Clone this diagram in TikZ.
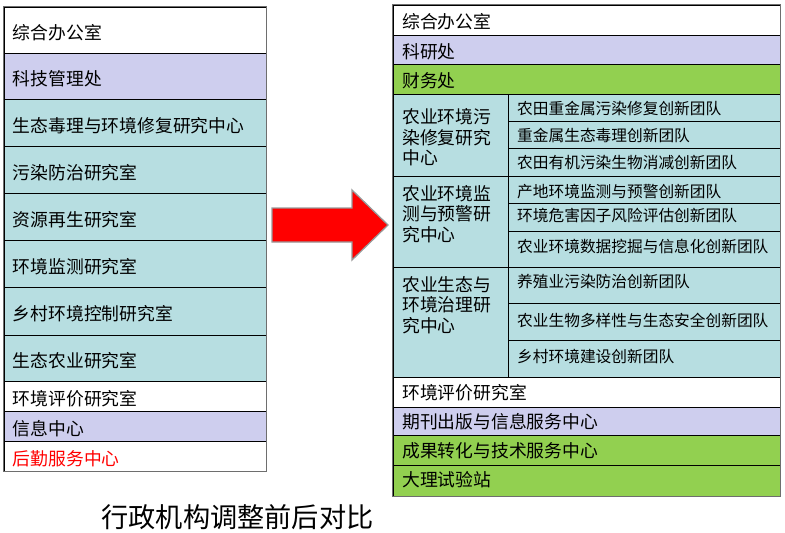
\documentclass[tikz,border=0pt]{standalone}
\usepackage{fontspec}
\setmainfont{Noto Sans CJK SC}
\usetikzlibrary{fit,calc}
\definecolor{lav}{RGB}{206,206,238}
\definecolor{teal2}{RGB}{183,222,225}
\definecolor{grn}{RGB}{146,208,80}
\definecolor{arrowred}{RGB}{255,0,0}
\definecolor{framegray}{RGB}{110,110,110}
\begin{document}
\begin{tikzpicture}[x=1pt,y=-1pt,
  cell/.style={draw=black, line width=0.7pt, inner sep=0pt, fill=#1},
  txt/.style={anchor=west, inner sep=0pt, font=\fontsize{17.8}{21}\selectfont},
  subtxt/.style={anchor=west, inner sep=0pt, font=\fontsize{15.7}{19}\selectfont},
  grouptxt/.style={anchor=north west, inner sep=0pt, align=left, font=\fontsize{17.8}{20.5}\selectfont},
  frame/.style={draw=framegray, line width=1.1pt}
]
\useasboundingbox (0,0) rectangle (785,533);

% ---------- left table ----------
\foreach \n/\a/\b/\c/\s in {
  L1/7/53/white/综合办公室,
  L2/53/99/lav/科技管理处,
  L3/99/146/teal2/生态毒理与环境修复研究中心,
  L4/146/193/teal2/污染防治研究室,
  L5/193/240/teal2/资源再生研究室,
  L6/240/287/teal2/环境监测研究室,
  L7/287/335/teal2/乡村环境控制研究室,
  L8/335/381/teal2/生态农业研究室,
  L9/381/411/white/环境评价研究室,
  L10/411/441/lav/信息中心,
  L11/441/471/white/{\color{red}后勤服务中心}} {
  \node[cell=\c, fit={(4,\a)(266,\b)}] (\n) {};
  \node[txt] (\n-t) at ($(\n.west)+(9,3)$) {\s};
}
\draw[frame] (L1.north west) rectangle (L11.south east);

% ---------- arrow ----------
\draw[fill=arrowred, draw=gray!80, line width=1.3pt, line join=miter]
  (272,208) -- (352,208) -- (352,190) -- (388,225) -- (352,260) -- (352,242) -- (272,242) -- cycle;

% ---------- right table ----------
\foreach \n/\a/\b/\ty/\c/\s in {
  R1/5/35/22/white/综合办公室,
  R2/35/64/51.5/lav/科研处,
  R3/64/94/81/grn/财务处,
  R4/377/407/392.5/white/环境评价研究室,
  R5/407/435/421.5/lav/期刊出版与信息服务中心,
  R6/435/465/450.5/grn/成果转化与技术服务中心,
  R7/465/496/480/grn/大理试验站} {
  \node[cell=\c, fit={(393,\a)(780,\b)}] (\n) {};
  \node[txt] (\n-t) at (402,\ty) {\s};
}

\foreach \n/\a/\b/\ty/\s in {
  G1/94/176/108.5/{农业环境污\\染修复研究\\中心},
  G2/176/267/185/{农业环境监\\测与预警研\\究中心},
  G3/267/377/276/{农业生态与\\环境治理研\\究中心}} {
  \node[cell=teal2, fit={(393,\a)(508,\b)}] (\n) {};
  \node[grouptxt] (\n-t) at (402,\ty) {\s};
}

\foreach \n/\a/\b/\ty/\s in {
  S1/94/121/108.5/农田重金属污染修复创新团队,
  S2/121/148/135.5/重金属生态毒理创新团队,
  S3/148/176/162.5/农田有机污染生物消减创新团队,
  S4/176/203/191.5/产地环境监测与预警创新团队,
  S5/203/231/216/环境危害因子风险评估创新团队,
  S6/231/267/246.5/农业环境数据挖掘与信息化创新团队,
  S7/267/303/282/养殖业污染防治创新团队,
  S8/303/340/320/农业生物多样性与生态安全创新团队,
  S9/340/377/356.5/乡村环境建设创新团队} {
  \node[cell=teal2, fit={(508,\a)(780,\b)}] (\n) {};
  \node[subtxt] (\n-t) at (517,\ty) {\s};
}
\draw[frame] (R1.north west) rectangle (R7.south east);

% ---------- title ----------
\node[inner sep=0pt, font=\fontsize{27.2}{30}\selectfont] (title) at (237.5,517.5) {行政机构调整前后对比};
\end{tikzpicture}
\end{document}
